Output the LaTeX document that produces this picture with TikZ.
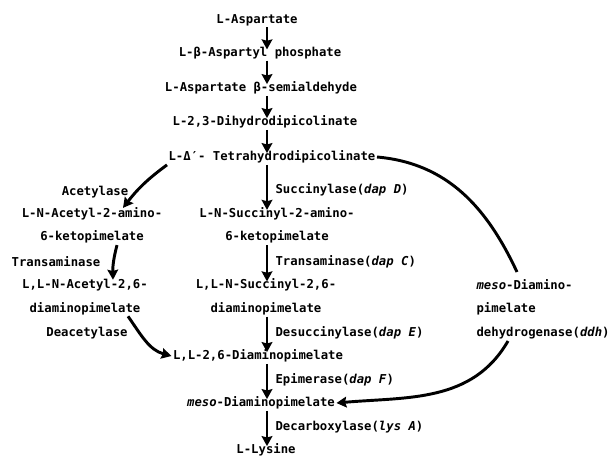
\documentclass[tikz,border=0pt]{standalone}
\usepackage{fontspec}
\setmonofont{DejaVu Sans Mono}
\usetikzlibrary{calc, arrows.meta}
\newcommand{\pathfont}{\fontsize{9.2}{17.6}\selectfont\ttfamily\bfseries}
\tikzset{
    compound/.style={inner sep=1pt, text centered, align=center, font=\pathfont},
    enzyme/.style={inner sep=1pt, anchor=west, align=left, font=\pathfont},
    arrow/.style={line width=2.2pt, -{Stealth[length=7.5pt, width=8pt, inset=1pt]}},
    step_arrow/.style={arrow, shorten >=-3pt},
    line/.style={line width=2.2pt},
}
\begin{document}
\begin{tikzpicture}[x=0.75pt, y=-0.75pt]
      \useasboundingbox (0,0) rectangle (613,457);
      \coordinate (colx) at (267,0);
      %%%%%%%%%%%%%%%%
      % Common trunk %
      %%%%%%%%%%%%%%%%
      \node (asp) [compound] at (257,20)
          {L-Aspartate};
      \node (bap) [compound] at (260,53)
          {L-β-Aspartyl phosphate};
      \node (asa) [compound] at (261,88)
          {L-Aspartate β-semialdehyde};
      \node (dhdp) [compound] at (265,122)
          {L-2,3-Dihydrodipicolinate};
      \node (thdp) [compound] at (272,157)
          {L-Δ′- Tetrahydrodipicolinate};

      \draw [step_arrow] (asp.south -| colx) -- (bap.north -| colx);
      \draw [step_arrow] (bap.south -| colx) -- (asa.north -| colx);
      \draw [step_arrow] (asa.south -| colx) -- (dhdp.north -| colx);
      \draw [step_arrow] (dhdp.south -| colx) -- (thdp.north -| colx);

      %%%%%%%%%%%%%%%%%%%%%
      % Succinylase route %
      %%%%%%%%%%%%%%%%%%%%%
      \node (sucamino) [compound] at (277,225.5)
          {L-N-Succinyl-2-amino-\\6-ketopimelate};
      \node (llns) [compound] at (266,297)
          {L,L-N-Succinyl-2,6-\\diaminopimelate};
      \node (ll26) [compound] at (258,356)
          {L,L-2,6-Diaminopimelate};
      \node (meso) [compound] at (261,403)
          {\textit{meso}-Diaminopimelate};
      \node (lys) [compound] at (266,450)
          {L-Lysine};

      \node (dapD) [enzyme] at (274,190) {Succinylase(\textit{dap D})};
      \node (dapC) [enzyme] at (274,262) {Transaminase(\textit{dap C})};
      \node (dapE) [enzyme] at (274,333) {Desuccinylase(\textit{dap E})};
      \node (dapF) [enzyme] at (274,380) {Epimerase(\textit{dap F})};
      \node (lysA) [enzyme] at (274,427) {Decarboxylase(\textit{lys A})};

      \draw [step_arrow] (thdp.south -| colx) -- (sucamino.north -| colx);
      \draw [step_arrow] (sucamino.south -| colx) -- (llns.north -| colx);
      \draw [step_arrow] (llns.south -| colx) -- (ll26.north -| colx);
      \draw [step_arrow] (ll26.south -| colx) -- (meso.north -| colx);
      \draw [step_arrow] (meso.south -| colx) -- (lys.north -| colx);

      %%%%%%%%%%%%%%%%%%%
      % Acetylase route %
      %%%%%%%%%%%%%%%%%%%
      \node (acetylase) [compound] at (95,192) {Acetylase};
      \node (acamino) [compound] at (92,225.5)
          {L-N-Acetyl-2-amino-\\6-ketopimelate};
      \node (transL) [compound] at (56,262) {Transaminase};
      \node (llna) [compound] at (85,297)
          {L,L-N-Acetyl-2,6-\\diaminopimelate};
      \node (deacetylase) [compound] at (87,333) {Deacetylase};

      \draw [arrow] (thdp.south west) to [bend right=8] ($(acamino.north)+(31,2)$);
      \draw [arrow] ($(acamino.south)+(25,0)$) to [bend right=8] ($(llna.north)+(28,2)$);
      \draw [arrow] ($(llna.south)+(43,0)$) to [out=-55, in=165] (ll26.west);

      %%%%%%%%%%%%%%%%%%%%%%%%%%
      % Dehydrogenase shortcut %
      %%%%%%%%%%%%%%%%%%%%%%%%%%
      \node (ddh) [enzyme] at (475,309)
          {\textit{meso}-Diamino-\\pimelate\\dehydrogenase(\textit{ddh})};
      \coordinate (ddhtop) at (517,272);
      \coordinate (ddhbot) at (508,341);

      \draw [line] (thdp.east) to [out=-5, in=115] (ddhtop);
      \draw [arrow] (ddhbot) to [out=-120, in=5] (meso.east);

\end{tikzpicture}
\end{document}
